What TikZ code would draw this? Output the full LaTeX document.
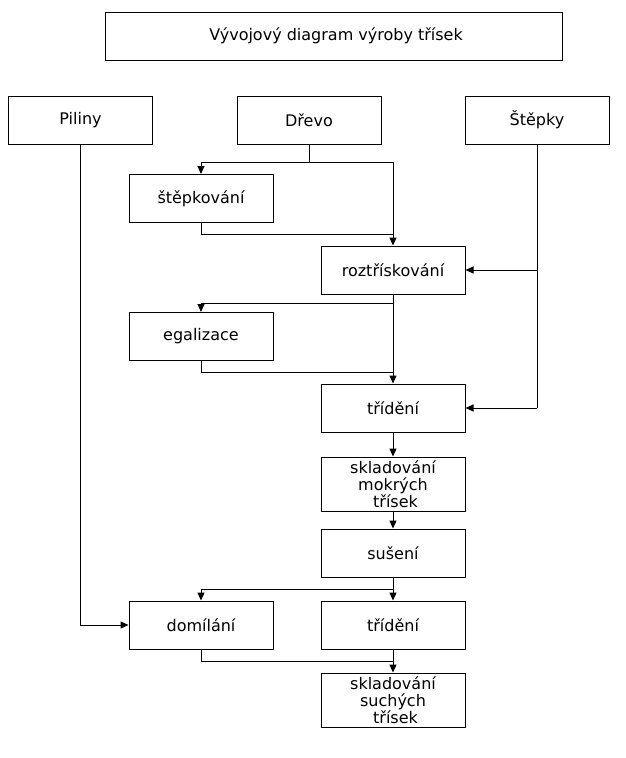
\documentclass[tikz,border=0pt]{standalone}
\usepackage{fontspec}
\setmainfont{DejaVu Sans}
\usetikzlibrary{arrows.meta}

\begin{document}
\begin{tikzpicture}[x=1pt,y=-1pt,>={Triangle[length=8pt,width=7pt]},line width=1pt,
  box/.style={draw,minimum width=144pt,minimum height=48pt,inner sep=1pt,
    align=center,font=\fontsize{16}{17}\selectfont},
  tall/.style={box,minimum height=54pt}]
  \useasboundingbox (0,0) rectangle (625,758);
  \node[box,minimum width=457pt] (title) at (333.5,36) {\ Vývojový diagram výroby třísek};

  \node[box] (piliny) at (80.5,120) {Piliny};
  \node[box] (drevo) at (309,120) {Dřevo};
  \node[box] (stepky) at (537,120) {Štěpky};
  \node[box] (stepkovani) at (201,198.5) {štěpkování};
  \node[box] (rozt) at (393,270) {roztřískování};
  \node[box] (egal) at (201,336.5) {egalizace};
  \node[box] (trideni) at (393,408) {třídění};
  \node[tall] (mokre) at (393,484) {skladování\\mokrých\\\ třísek};
  \node[box] (suseni) at (393,553) {sušení};
  \node[box] (domil) at (201,625) {domílání};
  \node[box] (trideniB) at (393,625) {třídění};
  \node[tall] (suche) at (393,700) {skladování\\suchých\\\ třísek};

  % drevo
  \coordinate (jd) at (drevo.south |- 0,162);
  \draw[->] (drevo.south) -- (jd) -| (stepkovani.north);
  \draw[->] (jd) -| (rozt.north);
  \draw (stepkovani.south) |- (rozt.north |- 0,234);
  % stepky
  \draw (stepky.south) -- (stepky.south |- trideni.east);
  \draw[->] (stepky.south |- rozt.east) -- (rozt.east);
  \draw[->] (stepky.south |- trideni.east) -- (trideni.east);
  % roztriskovani
  \coordinate (jr) at (rozt.south |- 0,303);
  \draw[->] (rozt.south) -- (jr) -| (egal.north);
  \draw[->] (jr) -- (trideni.north);
  \draw (egal.south) |- (trideni.north |- 0,372);
  \draw[->] (trideni.south) -- (mokre.north);
  \draw[->] (mokre.south) -- (suseni.north);
  % suseni
  \coordinate (js) at (suseni.south |- 0,589);
  \draw[->] (suseni.south) -- (js) -| (domil.north);
  \draw[->] (js) -- (trideniB.north);
  \draw[->] (piliny.south) |- (domil.west);
  \draw (domil.south) |- (suche.north |- 0,661);
  \draw[->] (trideniB.south) -- (suche.north);
\end{tikzpicture}
\end{document}
